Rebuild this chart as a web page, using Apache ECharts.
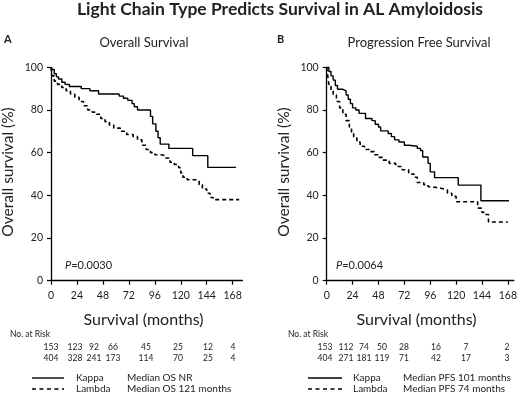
<!DOCTYPE html>
<html>
<head>
<meta charset="utf-8">
<script src="https://cdn.jsdelivr.net/npm/echarts@6/dist/echarts.min.js"></script>
<style>
  html, body { margin: 0; padding: 0; background: #fff; }
  #chart { width: 520px; height: 397px; }
</style>
</head>
<body>
<div id="chart"></div>
<script>
// tick labels
var xTicks = [0, 24, 48, 72, 96, 120, 144, 168];
var yTicks = [0, 20, 40, 60, 80, 100];

// Kaplan-Meier curves: [month, survival %]
var kappaOS = [[0,100],[1,99],[3,97],[5,95.5],[7,94.5],[10,93],[13,92],[17,91],[28,90],[36,89],[44,87.5],[63,86.5],[67,85.5],[71,84.5],[75,83],[77,81.5],[80,80],[92,77],[94,73.5],[97,70],[99,67],[101,64],[109,62],[131,58.6],[145,53.1],[171,53.1]];
var lambdaOS = [[0,100],[1,96],[3,93.5],[6,92],[10,90.5],[14,89],[18,87.5],[22,86],[26,84],[30,82],[34,80],[38,79],[42,78],[46,76],[50,74.5],[54,73],[58,71.5],[64,70],[70,68.5],[76,67.5],[80,66],[84,63.5],[88,61.5],[92,60],[96,59],[102,58.5],[106,57.5],[110,55.5],[114,54.5],[118,53],[120,50.5],[122,48.5],[126,47.3],[134,47],[137,45],[140,43],[144,41],[147,39],[150,38],[174,38]];
var kappaPFS = [[0,100],[2,98],[4,96],[6,94],[8,91.5],[10,89.7],[15,89],[18,87],[20,85],[22,83],[24,81],[27,80],[30,78.4],[36,76],[42,75],[45,73.3],[48,72],[50,70.2],[57,69],[60,67.5],[63,66],[67,65],[72,63.5],[76,63],[84,62],[87,61],[89,58],[94,55],[96,51],[100,48.3],[122,44.8],[143,37.5],[169,37.5]];
var lambdaPFS = [[0,100],[1,96],[2,92],[4,89],[6,87],[9,84],[12,81],[15,78],[18,75],[21,72],[23,69],[25,67],[28,65],[31,63],[35,61.5],[40,60.5],[44,59],[48,57.8],[52,56.5],[58,55],[64,53.5],[70,52],[76,50],[81,48.5],[84,46],[90,45],[94,44],[98,43.3],[106,42.5],[112,41],[116,39.5],[120,37],[136,37],[140,34],[144,32],[147,31],[150,27.5],[168,27.5]];

// numbers at risk
var riskKappaOS = [153, 123, 92, 66, 45, 25, 12, 4];
var riskLambdaOS = [404, 328, 241, 173, 114, 70, 25, 4];
var riskKappaPFS = [153, 112, 74, 50, 28, 16, 7, 2];
var riskLambdaPFS = [404, 271, 181, 119, 71, 42, 17, 3];

var titleText = 'Light Chain Type Predicts Survival in AL Amyloidosis';
var pValueOS = '0.0030';
var pValuePFS = '0.0064';
var medianOS = ['Median OS NR', 'Median OS 121 months'];
var medianPFS = ['Median PFS 101 months', 'Median PFS 74 months'];

// layout of the risk table columns (pixel centres, as set in the figure)
var riskColA = [51, 75, 94, 113, 146, 178, 208, 233];
var riskColB = [325, 346, 364, 382, 404, 436, 466, 507];

var FONT = 'Lato, "Open Sans", sans-serif';
var INK = '#222';

var myChart = echarts.init(document.getElementById('chart'));

function xAx(idx, max) {
  return {
    gridIndex: idx, type: 'value', min: 0, max: max,
    axisLine: { lineStyle: { color: '#000', width: 1.3 } },
    axisTick: { length: 4, customValues: xTicks, lineStyle: { color: '#000', width: 1.2 } },
    axisLabel: { customValues: xTicks, color: INK, fontSize: 10.5, fontFamily: FONT, margin: 9 },
    splitLine: { show: false }
  };
}
function yAx(idx) {
  return {
    gridIndex: idx, type: 'value', min: 0, max: 100, interval: 20,
    axisLine: { show: true, lineStyle: { color: '#000', width: 1.3 } },
    axisTick: { show: true, length: 4, lineStyle: { color: '#000', width: 1.2 } },
    axisLabel: { color: INK, fontSize: 10.5, fontFamily: FONT, margin: 8 },
    splitLine: { show: false }
  };
}
function curve(idx, data, dashed) {
  return {
    type: 'line', xAxisIndex: idx, yAxisIndex: idx, data: data,
    step: 'end', symbol: 'none', silent: true,
    lineStyle: { color: '#000', width: dashed ? 1.6 : 1.4, type: dashed ? [4, 3] : 'solid' }
  };
}

function txt(x, y, text, opts) {
  opts = opts || {};
  return {
    type: 'text', x: x, y: y, rotation: opts.rotation || 0, silent: true,
    style: {
      text: text, fill: opts.color || INK,
      font: (opts.italic ? 'italic ' : '') + (opts.bold ? 'bold ' : '') + (opts.size || 12) + 'px ' + FONT,
      align: opts.align || 'left', verticalAlign: 'middle', rich: opts.rich
    }
  };
}

function legendLine(x1, x2, y, dashed) {
  return {
    type: 'line', silent: true,
    shape: { x1: x1, y1: y, x2: x2, y2: y },
    style: { stroke: '#000', lineWidth: 1.4, lineDash: dashed ? [4, 3.5] : null }
  };
}

var pRich = { i: { fontStyle: 'italic', fontSize: 11, fontFamily: FONT, fill: INK } };

var graphics = [
  txt(280, 9, titleText, { bold: true, size: 17.5, align: 'center' }),
  txt(4, 39, 'A', { bold: true, size: 11 }),
  txt(277, 39, 'B', { bold: true, size: 11 }),
  txt(144, 43, 'Overall Survival', { size: 13, align: 'center' }),
  txt(419, 43, 'Progression Free Survival', { size: 13, align: 'center' }),
  txt(8, 172, 'Overall survival (%)', { size: 15.5, align: 'center', rotation: Math.PI / 2 }),
  txt(284, 172, 'Overall survival (%)', { size: 15.5, align: 'center', rotation: Math.PI / 2 }),
  txt(143.5, 320, 'Survival (months)', { size: 16, align: 'center' }),
  txt(416.5, 320, 'Survival (months)', { size: 16, align: 'center' }),
  txt(65, 265, '{i|P}=' + pValueOS, { size: 11, rich: pRich }),
  txt(336, 265, '{i|P}=' + pValuePFS, { size: 11, rich: pRich }),
  txt(10, 334, 'No. at Risk', { size: 8.5 }),
  txt(288, 334, 'No. at Risk', { size: 8.5 }),
  legendLine(32, 64, 378, false),
  legendLine(32, 64, 389, true),
  legendLine(308, 342, 378, false),
  legendLine(308, 342, 389, true),
  txt(76, 378, 'Kappa', { size: 10 }),
  txt(76, 389, 'Lambda', { size: 10 }),
  txt(127, 378, medianOS[0], { size: 10 }),
  txt(127, 389, medianOS[1], { size: 10 }),
  txt(353, 378, 'Kappa', { size: 10 }),
  txt(353, 389, 'Lambda', { size: 10 }),
  txt(403, 378, medianPFS[0], { size: 10 }),
  txt(403, 389, medianPFS[1], { size: 10 })
];

function riskRow(values, cols, y) {
  values.forEach(function (v, i) {
    graphics.push(txt(cols[i], y, String(v), { size: 8.5, align: 'center' }));
  });
}
riskRow(riskKappaOS, riskColA, 347);
riskRow(riskLambdaOS, riskColA, 358);
riskRow(riskKappaPFS, riskColB, 347);
riskRow(riskLambdaPFS, riskColB, 358);

var option = {
  backgroundColor: '#fff',
  animation: false,
  grid: [
    { left: 51, width: 191.4, top: 67.3, height: 213.4 },
    { left: 326.7, width: 190, top: 67.3, height: 213.4 }
  ],
  xAxis: [xAx(0, 177), xAx(1, 173.5)],
  yAxis: [yAx(0), yAx(1)],
  series: [
    curve(0, kappaOS, false),
    curve(0, lambdaOS, true),
    curve(1, kappaPFS, false),
    curve(1, lambdaPFS, true)
  ],
  graphic: graphics
};

myChart.setOption(option);
window.addEventListener('resize', function () { myChart.resize(); });
</script>
</body>
</html>
